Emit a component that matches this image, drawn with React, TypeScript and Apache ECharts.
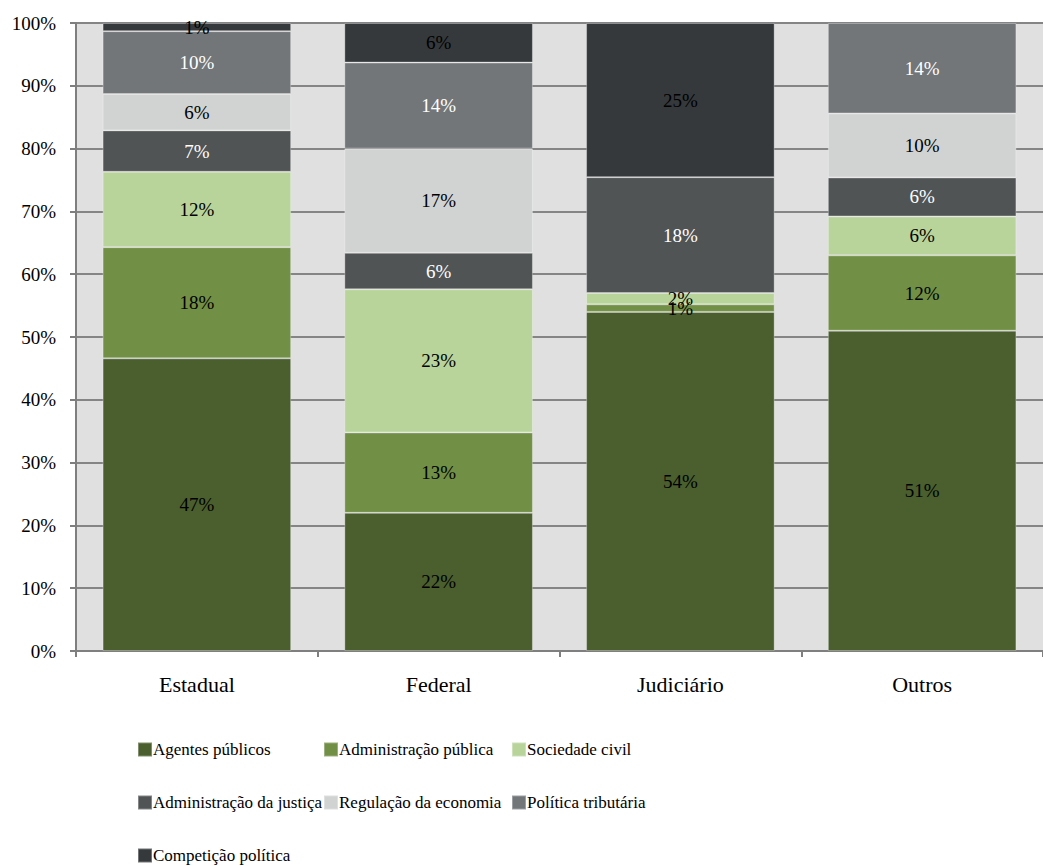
import React, { useEffect, useRef } from "react";
import * as echarts from "echarts";

const categories = ["Estadual", "Federal", "Judiciário", "Outros"];
const seriesNames = [
  "Agentes públicos",
  "Administração pública",
  "Sociedade civil",
  "Administração da justiça",
  "Regulação da economia",
  "Política tributária",
  "Competição política",
];
const agentesPublicos = [46.6, 22.0, 54.0, 51.0];
const administracaoPublica = [17.7, 12.8, 1.2, 12.0];
const sociedadeCivil = [12.0, 22.8, 1.8, 6.2];
const administracaoJustica = [6.6, 5.8, 18.45, 6.2];
const regulacaoEconomia = [5.8, 16.6, 0, 10.2];
const politicaTributaria = [10.0, 13.7, 0, 14.4];
const competicaoPolitica = [1.3, 6.3, 24.55, 0];
const yTicks = [0, 10, 20, 30, 40, 50, 60, 70, 80, 90, 100];

const seriesValues = [
  agentesPublicos,
  administracaoPublica,
  sociedadeCivil,
  administracaoJustica,
  regulacaoEconomia,
  politicaTributaria,
  competicaoPolitica,
];
const colors = ["#4a5e2e", "#718f45", "#b8d49a", "#505455", "#d1d3d3", "#727679", "#35393b"];
const labelColors = ["#000", "#000", "#000", "#fff", "#000", "#fff", "#000"];
const legendPos = [
  [137, 741],
  [323, 741],
  [511, 741],
  [137, 794],
  [323, 794],
  [511, 794],
  [137, 847],
];

const FONT = "Liberation Serif, serif";

export default function App() {
  const ref = useRef<HTMLDivElement>(null);
  useEffect(() => {
    if (!ref.current) return;
    const chart = echarts.init(ref.current, undefined, { renderer: "svg" });
    chart.setOption({
      animation: false,
      textStyle: { fontFamily: FONT },
      grid: {
        left: 76,
        top: 23,
        width: 972,
        height: 628,
        show: true,
        backgroundColor: "#e0e0e0",
        borderWidth: 0,
      },
      legend: seriesNames.map((n, i) => ({
        data: [n],
        left: legendPos[i][0],
        top: legendPos[i][1],
        padding: 0,
        icon: "rect",
        itemWidth: 14,
        itemHeight: 14,
        itemGap: 0,
        selectedMode: false,
        textStyle: { fontFamily: FONT, fontSize: 17, color: "#000", padding: [0, 0, 0, -4] },
      })),
      xAxis: {
        type: "category",
        data: categories,
        axisLine: { lineStyle: { color: "#7f7f7f", width: 2 } },
        axisTick: { show: true, length: 6, lineStyle: { color: "#7f7f7f", width: 2 } },
        axisLabel: { fontFamily: FONT, fontSize: 22, color: "#000", margin: 22 },
        splitLine: { show: false },
      },
      yAxis: {
        type: "value",
        min: yTicks[0],
        max: yTicks[yTicks.length - 1],
        interval: 10,
        axisLine: { show: true, lineStyle: { color: "#7f7f7f", width: 2 } },
        axisTick: { show: true, length: 6, lineStyle: { color: "#7f7f7f", width: 2 } },
        axisLabel: { fontFamily: FONT, fontSize: 19, color: "#000", margin: 20, formatter: "{value}%" },
        splitLine: { show: true, lineStyle: { color: "#858585", width: 2 } },
      },
      series: seriesNames.map((n, i) => ({
        name: n,
        type: "bar",
        stack: "total",
        barCategoryGap: "22%",
        itemStyle: { color: colors[i], borderColor: "rgba(255,255,255,0.3)", borderWidth: 1 },
        label: {
          show: true,
          position: "inside",
          fontFamily: FONT,
          fontSize: 19,
          color: labelColors[i],
          formatter: (p: any) => `${Math.round(p.value)}%`,
        },
        data: seriesValues[i].map((v) => (v === 0 ? "-" : v)),
      })),
    });
    return () => chart.dispose();
  }, []);
  return (
    <div
      ref={ref}
      style={{ position: "fixed", left: 0, top: 0, width: 1043, height: 866, background: "#fff" }}
    />
  );
}
